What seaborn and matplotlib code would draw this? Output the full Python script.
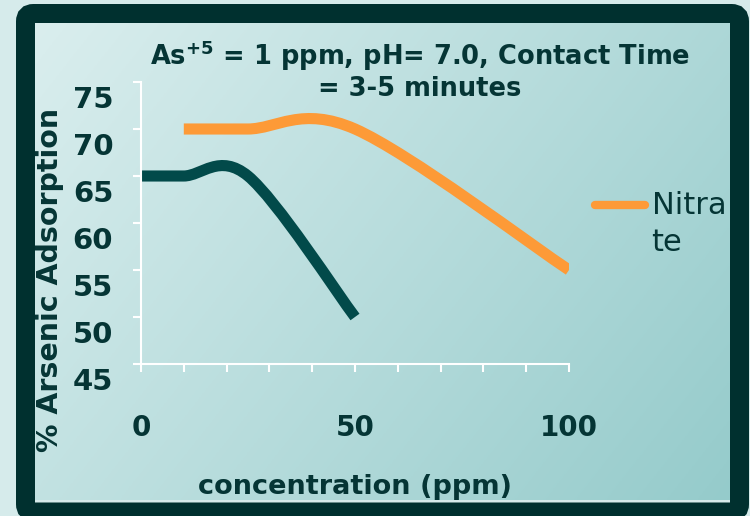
import numpy as np
import pandas as pd
import matplotlib
matplotlib.use('Agg')
from matplotlib import pyplot as plt
from matplotlib.path import Path
from matplotlib.patches import PathPatch, FancyBboxPatch
from matplotlib.lines import Line2D
from matplotlib.transforms import IdentityTransform, ScaledTranslation
import seaborn as sns

# values
conc_first = [0, 10, 25, 50]
ads_first = [65, 65, 65, 50]
conc_nitrate = [10, 25, 50, 100]
ads_nitrate = [70, 70, 70, 55]
series_names = ['Series1', 'Nitrate']
y_ticks = [45, 50, 55, 60, 65, 70, 75]
x_labelled = [0, 50, 100]

title = 'As$^{+5}$ = 1 ppm, pH= 7.0, Contact Time\n= 3-5 minutes'
xlabel = 'concentration (ppm)'
ylabel = '% Arsenic Adsorption'

dark = '#024a4a'
orange = '#fd9a37'
ink = '#053535'

sns.set_style('white')
plt.rcParams['font.family'] = ['DejaVu Sans']
plt.rcParams['mathtext.default'] = 'bf'

df = pd.concat([
    pd.DataFrame({'conc': conc_first, 'ads': ads_first, 'series': series_names[0]}),
    pd.DataFrame({'conc': conc_nitrate, 'ads': ads_nitrate, 'series': series_names[1]}),
])


def smooth_path(x, y):
    # excel style smoothed line: bezier through the points
    pts = np.column_stack([x, y]).astype(float)
    p = np.vstack([pts[0], pts, pts[-1]])
    verts = [pts[0]]
    codes = [Path.MOVETO]
    for i in range(len(pts) - 1):
        verts += [p[i + 1] + (p[i + 2] - p[i]) / 6, p[i + 2] - (p[i + 3] - p[i + 1]) / 6, p[i + 2]]
        codes += [Path.CURVE4] * 3
    return Path(verts, codes)


fig = plt.figure(figsize=(7.5, 5.16), dpi=100)
fig.patch.set_facecolor('#d6ebeb')

# gradient panel
bg = fig.add_axes([35 / 750, 16 / 516, 695 / 750, 477 / 516])
gx, gy = np.meshgrid(np.linspace(0, 1, 200), np.linspace(0, 1, 200))
t = (0.65 * gx + 0.35 * gy)
c0 = np.array([0xda, 0xee, 0xee]) / 255
c1 = np.array([0x95, 0xcb, 0xcb]) / 255
img = c0[None, None, :] * (1 - t[..., None]) + c1[None, None, :] * t[..., None]
bg.imshow(img, aspect='auto', extent=[0, 1, 0, 1])
bg.axis('off')

fig.patches.append(FancyBboxPatch((25.5, 4), 714, 498.5, boxstyle='round,pad=0,rounding_size=8',
                                  transform=IdentityTransform(), facecolor='none',
                                  edgecolor='#00302f', linewidth=19 * 0.72, zorder=5))

ax = fig.add_axes([141 / 750, 152 / 516, 428 / 750, 282 / 516])
ax.set_facecolor('none')
sns.lineplot(data=df, x='conc', y='ads', hue='series', palette=[dark, orange],
             ax=ax, legend=False, sort=False)

for line in list(ax.lines):
    xd, yd = line.get_xdata(), line.get_ydata()
    ax.add_patch(PathPatch(smooth_path(xd, yd), facecolor='none', edgecolor=line.get_color(),
                           linewidth=8, capstyle='butt', joinstyle='round'))
    line.set_visible(False)

ax.set_xlim(0, 100)
ax.set_ylim(45, 75)
ax.set_xticks(range(0, 101, 10))
ax.set_xticklabels([str(v) if v in x_labelled else '' for v in range(0, 101, 10)])
ax.set_yticks(y_ticks)
for s in ['top', 'right']:
    ax.spines[s].set_visible(False)
for s in ['left', 'bottom']:
    ax.spines[s].set_color('white')
    ax.spines[s].set_linewidth(1.5)
ax.tick_params(axis='both', colors='white', width=1.5, length=6, direction='out',
               bottom=True, left=True)
ax.tick_params(axis='x', pad=30, labelsize=20, labelcolor=ink)
ax.tick_params(axis='y', pad=14, labelsize=21, labelcolor=ink)
# labels sit a little below their ticks in the original
shift = ScaledTranslation(0, -15 / 100, fig.dpi_scale_trans)
for lab in ax.get_yticklabels():
    lab.set_fontweight('bold')
    lab.set_transform(lab.get_transform() + shift)
for lab in ax.get_xticklabels():
    lab.set_fontweight('bold')

ax.set_xlabel('')
ax.set_ylabel('')
fig.text(420 / 750, 1 - 70 / 516, title, ha='center', va='center', fontsize=18.5,
         fontweight='bold', color=ink, linespacing=1.15)
fig.text(355 / 750, 1 - 487 / 516, xlabel, ha='center', va='center', fontsize=19.5,
         fontweight='bold', color=ink)
fig.text(50 / 750, 1 - 280 / 516, ylabel, ha='center', va='center', rotation=90,
         fontsize=20.5, fontweight='bold', color=ink, zorder=6)

handle = Line2D([], [], color=orange, linewidth=6)
leg = ax.legend([handle], ['Nitra\nte'], loc='center left', bbox_to_anchor=(595 / 750, 1 - 224 / 516),
                bbox_transform=fig.transFigure, frameon=False, fontsize=22, handlelength=1.65,
                handletextpad=0.2, borderpad=0, borderaxespad=0, labelcolor=ink)
for txt in leg.get_texts():
    txt.set_linespacing(1.35)
# put the line level with the first text line
for h in leg.legend_handles:
    h.set_ydata(np.asarray(h.get_ydata()) + 14)

fig.savefig('out.png', dpi=100)
